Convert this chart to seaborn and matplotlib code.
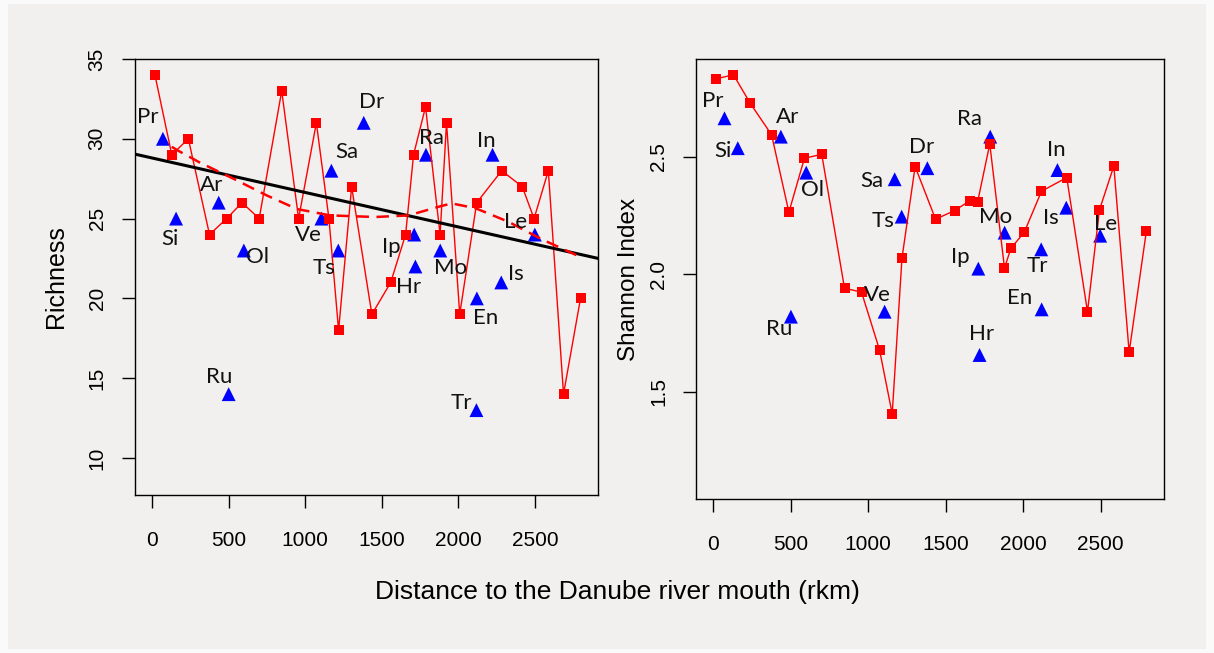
import numpy as np
import pandas as pd
import matplotlib
matplotlib.use("Agg")
import matplotlib.pyplot as plt
from matplotlib.patches import Rectangle
import seaborn as sns

# ---------------- data ----------------
site_km = [20, 130, 238, 376, 488, 588, 700, 847, 957, 1073, 1155, 1218, 1303, 1435,
           1558, 1655, 1707, 1785, 1880, 1922, 2008, 2119, 2282, 2416, 2493, 2586, 2685, 2796]
site_richness = [34, 29, 30, 24, 25, 26, 25, 33, 25, 31, 25, 18, 27, 19,
                 21, 24, 29, 32, 24, 31, 19, 26, 28, 27, 25, 28, 14, 20]
site_shannon = [2.831, 2.848, 2.727, 2.593, 2.264, 2.493, 2.510, 1.941, 1.924, 1.679,
                1.407, 2.068, 2.458, 2.234, 2.271, 2.312, 2.309, 2.554, 2.027, 2.111,
                2.179, 2.353, 2.411, 1.841, 2.273, 2.460, 1.669, 2.183]

ref_labels = ["Pr", "Si", "Ar", "Ru", "Ol", "Ve", "Sa", "Ts", "Dr",
              "Ip", "Hr", "Ra", "Mo", "Tr", "En", "In", "Is", "Le"]
ref_km = [72, 158, 436, 501, 600, 1106, 1171, 1216, 1382,
          1711, 1719, 1788, 1881, 2117, 2120, 2222, 2279, 2498]
ref_richness = [30, 25, 26, 14, 23, 25, 28, 23, 31,
                24, 22, 29, 23, 13, 20, 29, 21, 24]
ref_shannon = [2.663, 2.536, 2.585, 1.820, 2.432, 1.841, 2.404, 2.245, 2.451,
               2.024, 1.657, 2.585, 2.177, 2.106, 1.851, 2.443, 2.283, 2.164]

# smoothed trend of richness (dashed curve)
smooth_km = [130, 163, 315, 532, 750, 946, 1163, 1457, 1674, 1892, 1957, 2111, 2326, 2544, 2783]
smooth_richness = [29.5, 29.3, 28.5, 27.5, 26.45, 25.6, 25.2, 25.1, 25.2, 25.8, 25.95,
                   25.65, 24.8, 23.7, 22.65]

x_ticks = [0, 500, 1000, 1500, 2000, 2500]
rich_ticks = [10, 15, 20, 25, 30, 35]
shan_ticks = [1.5, 2.0, 2.5]

# label offsets in pixels (dx right, dy down) -- layout only
off_left = {"Pr": (-15, -22), "Si": (-6, 20), "Ar": (-7, -18), "Ru": (-9, -17),
            "Ol": (14, 6), "Ve": (-13, 16), "Sa": (15, -19), "Ts": (-14, 17),
            "Dr": (8, -21), "Ip": (-23, 12), "Hr": (-7, 21), "Ra": (6, -17),
            "Mo": (10, 17), "Tr": (-15, -7), "En": (9, 20), "In": (-6, -14),
            "Is": (15, -8), "Le": (-19, -13)}
off_right = {"Pr": (-12, -17), "Si": (-15, 3), "Ar": (7, -20), "Ru": (-12, 12),
             "Ol": (6, 17), "Ve": (-7, -17), "Sa": (-23, 2), "Ts": (-19, 4),
             "Dr": (-6, -21), "Ip": (-18, -12), "Hr": (2, -21), "Ra": (-21, -18),
             "Mo": (-9, -16), "Tr": (-4, 17), "En": (-22, -11), "In": (-1, -20),
             "Is": (-15, 10), "Le": (5, -12)}

sites = pd.DataFrame({"km": site_km, "richness": site_richness, "shannon": site_shannon})
refs = pd.DataFrame({"label": ref_labels, "km": ref_km,
                     "richness": ref_richness, "shannon": ref_shannon})
smooth = pd.DataFrame({"km": smooth_km, "richness": smooth_richness})

# ---------------- style ----------------
sns.set_style("ticks")
plt.rcParams["font.family"] = ["Liberation Sans", "DejaVu Sans"]
plt.rcParams["text.color"] = "black"
plt.rcParams["axes.labelcolor"] = "black"
BG = "#f1f0ef"
W, H = 1214, 653
fig = plt.figure(figsize=(W / 100, H / 100), dpi=100, facecolor="#fafafa")
fig.patches.append(Rectangle((8 / W, 4 / H), (W - 16) / W, (H - 8) / H,
                             transform=fig.transFigure, facecolor=BG,
                             edgecolor="none", zorder=-10))

ax1 = fig.add_axes([135 / W, 1 - 494.7 / H, 463 / W, 435.7 / H])
ax2 = fig.add_axes([696.3 / W, 1 - 499 / H, 467.7 / W, 440 / H])

XLIM = (-110, 2910)
PX = 0.72  # pixels -> points


def draw_panel(ax, ycol, ylim, yticks, offsets, fmt):
    ax.set_facecolor(BG)
    ax.set_xlim(*XLIM)
    ax.set_ylim(*ylim)
    sns.scatterplot(data=refs, x="km", y=ycol, marker="^", s=100, color="#0000ff",
                    edgecolor="none", ax=ax, zorder=3, legend=False)
    sns.lineplot(data=sites, x="km", y=ycol, color="#ff0000", lw=1.0, marker="s",
                 markersize=7.3, markeredgewidth=0, markeredgecolor="#ff0000",
                 ax=ax, zorder=4, legend=False)
    for lab, xv, yv in zip(refs["label"], refs["km"], refs[ycol]):
        dx, dy = offsets[lab]
        ax.annotate(lab, (xv, yv), xytext=(dx * PX, -dy * PX), textcoords="offset points",
                    ha="center", va="center", fontsize=16, family=["Lato", "DejaVu Sans"],
                    color="#111111", zorder=6)
    ax.set_xticks(x_ticks)
    ax.set_yticks(yticks)
    ax.set_yticklabels([fmt.format(t) for t in yticks])
    ax.tick_params(axis="both", direction="out", length=9.4, width=1.0,
                   labelsize=15, colors="black")
    ax.tick_params(axis="x", pad=16.5)
    ax.tick_params(axis="y", pad=11, labelrotation=90)
    for lbl in ax.get_yticklabels():
        lbl.set_va("center")
    for sp in ax.spines.values():
        sp.set_visible(True)
        sp.set_color("black")
        sp.set_linewidth(1.0)
    ax.set_xlabel("")


# left: richness
draw_panel(ax1, "richness", (7.7, 35), rich_ticks, off_left, "{:d}")
sns.regplot(data=sites, x="km", y="richness", scatter=False, ci=None, truncate=False,
            line_kws=dict(color="black", lw=2.2, zorder=5), ax=ax1)
sns.lineplot(data=smooth, x="km", y="richness", color="#ff0000", lw=1.8,
             linestyle=(0, (5, 3)), ax=ax1, zorder=5, legend=False)
ax1.set_xlim(*XLIM)
ax1.set_ylim(7.7, 35)
ax1.set_xlabel("")
ax1.set_ylabel("Richness", fontsize=18)
ax1.yaxis.set_label_coords(-0.145, 0.5)

# right: Shannon index
draw_panel(ax2, "shannon", (1.045, 2.915), shan_ticks, off_right, "{:.1f}")
ax2.set_ylabel("Shannon Index", fontsize=17.5)
ax2.yaxis.set_label_coords(-0.12, 0.5)

fig.text(617 / W, 1 - 592 / H, "Distance to the Danube river mouth (rkm)",
         ha="center", va="center", fontsize=19)

fig.savefig("out.png", dpi=100, facecolor=fig.get_facecolor())
